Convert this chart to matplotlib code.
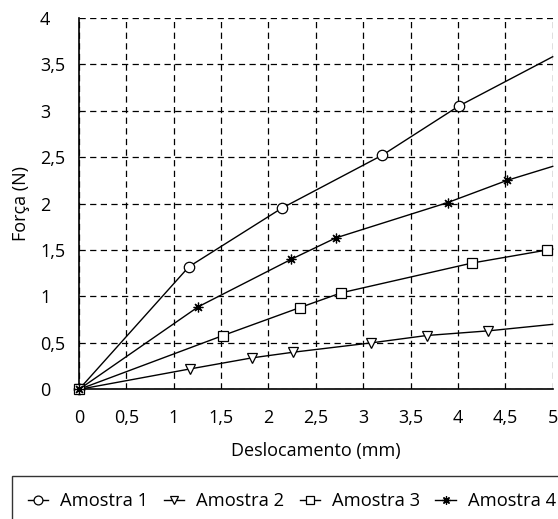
import matplotlib
matplotlib.use("Agg")
import matplotlib.pyplot as plt

plt.rcParams['font.family'] = ['Open Sans', 'DejaVu Sans']

x_ticks = [0, 0.5, 1, 1.5, 2, 2.5, 3, 3.5, 4, 4.5, 5]
y_ticks = [0, 0.5, 1, 1.5, 2, 2.5, 3, 3.5, 4]
x_labels = ["0", "0,5", "1", "1,5", "2", "2,5", "3", "3,5", "4", "4,5", "5"]
y_labels = ["0", "0,5", "1", "1,5", "2", "2,5", "3", "3,5", "4"]

a1_x = [0, 1.16, 2.14, 3.20, 4.01, 5.0]
a1_y = [0, 1.32, 1.95, 2.52, 3.05, 3.58]
a2_x = [0, 1.17, 1.83, 2.26, 3.08, 3.67, 4.32, 5.0]
a2_y = [0, 0.22, 0.34, 0.40, 0.50, 0.58, 0.63, 0.70]
a3_x = [0, 1.52, 2.33, 2.77, 4.15, 4.94, 5.0]
a3_y = [0, 0.58, 0.88, 1.04, 1.36, 1.50, 1.51]
a4_x = [0, 1.26, 2.24, 2.71, 3.89, 4.52, 5.0]
a4_y = [0, 0.89, 1.40, 1.63, 2.01, 2.25, 2.40]
names = ["Amostra 1", "Amostra 2", "Amostra 3", "Amostra 4"]

fig = plt.figure(figsize=(5.58, 5.19), dpi=100)
ax = fig.add_axes([79/558, 1-389.4/519, (552.7-79)/558, (389.4-17.7)/519])

series = [(a1_x, a1_y, 'o', 7.5), (a2_x, a2_y, 'v', 7.5), (a3_x, a3_y, 's', 7), (a4_x, a4_y, (8, 2, 0), 7)]
for (xs, ys, m, ms), name in zip(series, names):
    ax.plot(xs, ys, color='black', lw=1.0, marker=m, markersize=ms,
            markerfacecolor='white', markeredgecolor='black', markeredgewidth=0.9,
            markevery=list(range(len(xs) - 1)), label=name, clip_on=False, zorder=3)

ax.set_xlim(0, 5)
ax.set_ylim(0, 4)
ax.set_xticks(x_ticks)
ax.set_xticklabels(x_labels)
ax.set_yticks(y_ticks)
ax.set_yticklabels(y_labels, ha='left')
ax.tick_params(length=0, labelsize=13)
ax.tick_params(axis='x', pad=14)
ax.tick_params(axis='y', pad=28)
ax.grid(True, color='black', lw=0.9, linestyle=(0, (5, 3.5)))
ax.spines['top'].set_visible(False)
ax.spines['right'].set_visible(False)
ax.spines['left'].set_linewidth(1.2)
ax.spines['bottom'].set_linewidth(1.2)
ax.set_xlabel("Deslocamento (mm)", fontsize=13, labelpad=11)
ax.set_ylabel("Força (N)", fontsize=13, labelpad=7)

leg = fig.legend(loc='upper left', bbox_to_anchor=(11.7/558, 1-475.7/519), ncol=4,
                 fontsize=13.2, frameon=True, fancybox=False, edgecolor='black',
                 handlelength=1.1, handletextpad=0.65, columnspacing=0.85,
                 borderpad=0.9, borderaxespad=0, markerscale=0.85)
leg.get_frame().set_linewidth(1.0)

fig.savefig("out.png", dpi=100)
